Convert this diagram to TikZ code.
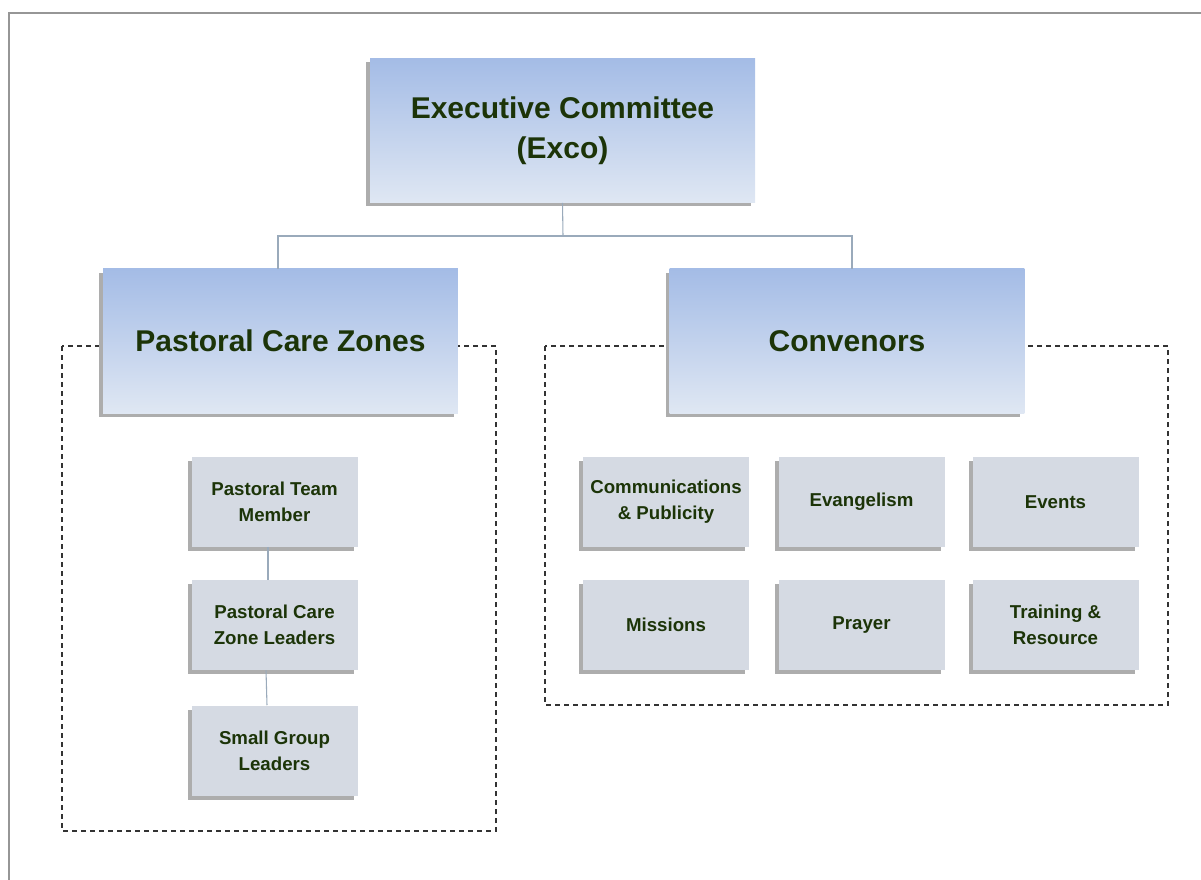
\documentclass[tikz,border=0pt]{standalone}
\usepackage{fontspec}
\setmainfont{Liberation Sans}
\usepackage{tikz}
\usetikzlibrary{shadows,positioning}
\definecolor{headtop}{RGB}{164,188,230}
\definecolor{headbottom}{RGB}{223,231,243}
\definecolor{unitfill}{RGB}{213,218,227}
\definecolor{labelgreen}{RGB}{28,52,8}
\definecolor{linkgray}{RGB}{154,170,187}
\definecolor{framegray}{RGB}{150,150,150}

\tikzset{
  boxshadow/.style={drop shadow={shadow xshift=-3pt,shadow yshift=-3pt,fill=black!32,opacity=1}},
  headbox/.style={boxshadow,top color=headtop,bottom color=headbottom,draw=none,
    font=\bfseries\fontsize{22.5}{30}\selectfont,text=labelgreen,align=center,
    minimum width=266pt,minimum height=108pt,inner sep=0pt},
  unitbox/.style={boxshadow,fill=unitfill,draw=none,
    font=\bfseries\fontsize{14}{19.5}\selectfont,text=labelgreen,align=center,
    minimum width=124.5pt,minimum height=67.5pt,inner sep=0pt},
  link/.style={draw=linkgray,line width=0.8pt},
  zone/.style={draw=black!80,line width=1pt,dash pattern=on 3.75pt off 3pt}
}

\begin{document}
\begin{tikzpicture}[x=0.75pt,y=-0.75pt]
\useasboundingbox (0,0) rectangle (1201,880);
% page frame
\draw[framegray,line width=1.5pt] (9,880) -- (9,13.5) -- (1201,13.5);

% dashed groups
\draw[zone] (62,346) rectangle (496,831);
\draw[zone] (545,346) rectangle (1168,705);

% top levels
\node[headbox,minimum width=288.75pt] (exco) at (562.5,130.5) {Executive Committee\\(Exco)};
\node[headbox] (pcz) at (280.5,341) {Pastoral Care Zones};
\node[headbox] (conv) at (847,341) {Convenors};

\coordinate (bus) at (563,236);
\draw[link] (exco.south) -- (bus);
\draw[link] (pcz.north -| 278,0) |- (bus) -| (conv.north -| 852,0);

% pastoral care chain
\node[unitbox] (ptm) at (274.5,501.5) {Pastoral Team\\Member};
\node[unitbox] (pczl) at (274.5,625) {Pastoral Care\\Zone Leaders};
\node[unitbox] (sgl) at (274.5,750.5) {Small Group\\Leaders};
\draw[link] (ptm.south -| 268,0) -- (pczl.north -| 268,0);
\draw[link] (pczl.south -| 266,0) -- (sgl.north -| 267,0);

% convenor portfolios
\node[unitbox] (comms) at (666,502) {Communications\\\& Publicity};
\node[unitbox] (evang) at (861.5,502) {Evangelism};
\node[unitbox] (events) at (1055.5,502) {Events};
\node[unitbox] (missions) at (666,625) {Missions};
\node[unitbox] (prayer) at (861.5,625) {Prayer};
\node[unitbox] (training) at (1055.5,625) {Training \&\\Resource};
\end{tikzpicture}
\end{document}
